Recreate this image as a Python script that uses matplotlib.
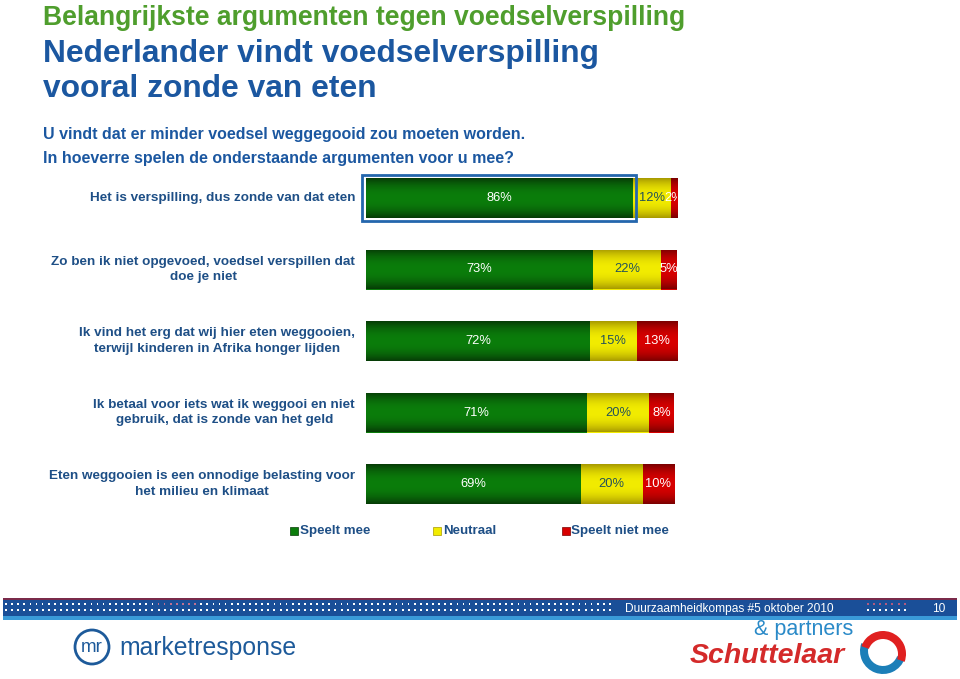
import numpy as np
import matplotlib
matplotlib.use("Agg")
import matplotlib.pyplot as plt
from matplotlib.patches import Rectangle, Wedge, Circle

# ---------------- data ----------------
categories = [
    "Het is verspilling, dus zonde van dat eten",
    "Zo ben ik niet opgevoed, voedsel verspillen dat\ndoe je niet",
    "Ik vind het erg dat wij hier eten weggooien,\nterwijl kinderen in Afrika honger lijden",
    "Ik betaal voor iets wat ik weggooi en niet\ngebruik, dat is zonde van het geld",
    "Eten weggooien is een onnodige belasting voor\nhet milieu en klimaat",
]
speelt_mee = [86, 73, 72, 71, 69]
neutraal = [12, 22, 15, 20, 20]
speelt_niet_mee = [2, 5, 13, 8, 10]
series_names = ["Speelt mee", "Neutraal", "Speelt niet mee"]

title_top = "Belangrijkste argumenten tegen voedselverspilling"
title_main = ["Nederlander vindt voedselverspilling", "vooral zonde van eten"]
question = ["U vindt dat er minder voedsel weggegooid zou moeten worden.",
            "In hoeverre spelen de onderstaande argumenten voor u mee?"]
footer_text = "Duurzaamheidkompas #5 oktober 2010"
page_no = "10"

# ---------------- styles ----------------
SANS = ["Liberation Sans", "DejaVu Sans"]
BLUE = "#1b57a0"
NAVY = "#1e4f86"
seg_colors = ["#0b7d0b", "#f2ec00", "#d80000"]
seg_edge = ["#063c06", "#a89a00", "#7a0000"]
label_colors = ["white", "#24525a", "white"]

W, H = 960, 679
fig = plt.figure(figsize=(W / 100, H / 100), dpi=100)
fig.patch.set_facecolor("white")

# overlay axes in pixel coordinates
ov = fig.add_axes([0, 0, 1, 1], zorder=0)
ov.set_xlim(0, W)
ov.set_ylim(H, 0)
ov.axis("off")

ov.text(43, 25, title_top, fontsize=19.1, fontweight="bold", color="#4f9e2d",
        family=SANS, va="baseline", ha="left")
ov.text(43, 62, title_main[0], fontsize=22.9, fontweight="bold", color=BLUE,
        family=SANS, va="baseline", ha="left")
ov.text(43, 97, title_main[1], fontsize=22.9, fontweight="bold", color=BLUE,
        family=SANS, va="baseline", ha="left")
ov.text(43, 139, question[0], fontsize=11.5, fontweight="bold", color=BLUE,
        family=SANS, va="baseline", ha="left")
ov.text(43, 163, question[1], fontsize=11.5, fontweight="bold", color=BLUE,
        family=SANS, va="baseline", ha="left")

# ---------------- bar axes ----------------
bar_left_px, bar_right_px = 366, 677
y0_px, dy_px = 198, 71.5
top_px = y0_px - dy_px / 2
bot_px = y0_px + dy_px * 4.5
ax = fig.add_axes([bar_left_px / W, 1 - bot_px / H,
                   (bar_right_px - bar_left_px) / W, (bot_px - top_px) / H], zorder=2)
ax.patch.set_alpha(0)

n = len(categories)
ypos = np.arange(n)
bh = 40 / dy_px
series = [speelt_mee, neutraal, speelt_niet_mee]

grad = np.abs(np.linspace(-1, 1, 64))[:, None]
left = np.zeros(n)
for si, vals in enumerate(series):
    vals = np.array(vals, dtype=float)
    bars = ax.barh(ypos, vals, left=left, height=bh, color=seg_colors[si],
                   edgecolor="none", label=series_names[si], zorder=2)
    c_mid = np.array(matplotlib.colors.to_rgb(seg_colors[si]))
    c_edge = np.array(matplotlib.colors.to_rgb(seg_edge[si]))
    wgt = grad[:, :, None] ** 2.2
    img = c_mid[None, None, :] * (1 - wgt) + c_edge[None, None, :] * wgt
    for b in bars:
        x, y, w, h = b.get_x(), b.get_y(), b.get_width(), b.get_height()
        im = ax.imshow(img, extent=(x, x + w, y + h, y), aspect="auto",
                       zorder=3, interpolation="bilinear")
        im.set_clip_path(b)
    for i, (l, v) in enumerate(zip(left, vals)):
        ax.text(l + v / 2, ypos[i], f"{int(v)}%", ha="center", va="center",
                color=label_colors[si], fontsize=9.3, family=SANS, zorder=5,
                clip_on=True)
    left += vals

ax.set_xlim(0, 100)
ax.set_ylim(n - 0.5, -0.5)
ax.axis("off")

# highlight frame around first bar
ax.add_patch(Rectangle((-1.2, -bh / 2 - 0.04), speelt_mee[0] + 2.1, bh + 0.08,
                       fill=False, edgecolor="#2466ad", linewidth=2.0, zorder=6,
                       clip_on=False))

# category labels
for i, cat in enumerate(categories):
    ov.text(355, y0_px + dy_px * i, cat, ha="right", va="center",
            multialignment="center", fontsize=9.7, fontweight="bold",
            color=NAVY, family=SANS, linespacing=1.35)

# legend
leg_items = [(290, 300), (433, 443), (562, 571)]
for si, ((sx, tx), name) in enumerate(zip(leg_items, series_names)):
    ov.add_patch(Rectangle((sx, 527), 8, 8, facecolor=seg_colors[si],
                           edgecolor=seg_edge[si], linewidth=0.5))
    ov.text(tx, 531, name, ha="left", va="center", fontsize=9.6,
            fontweight="bold", color=NAVY, family=SANS)

# ---------------- footer ----------------
ov.add_patch(Rectangle((3, 598), 954, 1.6, facecolor="#7a2a4a", edgecolor="none"))
ov.add_patch(Rectangle((3, 599.6), 954, 16, facecolor="#1a4f98", edgecolor="none"))
ov.add_patch(Rectangle((3, 615.6), 954, 4.5, facecolor="#3a9ad8", edgecolor="none"))
dx = np.arange(6, 610, 6.1)
row1_cols = np.where((dx > 155) & (dx < 196), "#c07090", "white")
ov.scatter(dx, np.full_like(dx, 604), s=1.6, c=list(row1_cols), marker="s", linewidths=0)
ov.scatter(dx, np.full_like(dx, 610), s=1.6, c="white", marker="s", linewidths=0)
dx2 = np.arange(868, 906, 6.1)
ov.scatter(dx2, np.full_like(dx2, 604), s=1.6, c="#b05a80", marker="s", linewidths=0)
ov.scatter(dx2, np.full_like(dx2, 610), s=1.6, c="white", marker="s", linewidths=0)
ov.text(625, 609, footer_text, ha="left", va="center", fontsize=8.6,
        color="white", family=SANS)
ov.text(939, 609, page_no, ha="center", va="center", fontsize=8.6,
        color="white", family=SANS)

# marketresponse logo (text)
ov.add_patch(Circle((92, 647), 17, fill=False, edgecolor="#1d5a9a", linewidth=2))
ov.text(92, 647, "mr", ha="center", va="center", fontsize=13.5, color="#1d5a9a",
        family=SANS)
ov.text(119, 648, "marketresponse", ha="left", va="center", fontsize=17.8,
        color="#1d5a9a", family=SANS)

# Schuttelaar & partners logo (text)
ov.text(754, 635, "& partners", ha="left", va="baseline", fontsize=15.5,
        color="#2a8ac8", family=SANS)
ov.text(690, 663, "Schuttelaar", ha="left", va="baseline", fontsize=20.5,
        fontweight="bold", style="italic", color="#d42a2a", family=SANS)
ov.add_patch(Wedge((883, 651), 23, 20, 200, width=8, facecolor="#1c7fb8",
                   edgecolor="none"))
ov.add_patch(Wedge((883, 654), 23, 200, 380, width=8, facecolor="#e02020",
                   edgecolor="none"))

fig.savefig("out.png", dpi=100, facecolor="white")
